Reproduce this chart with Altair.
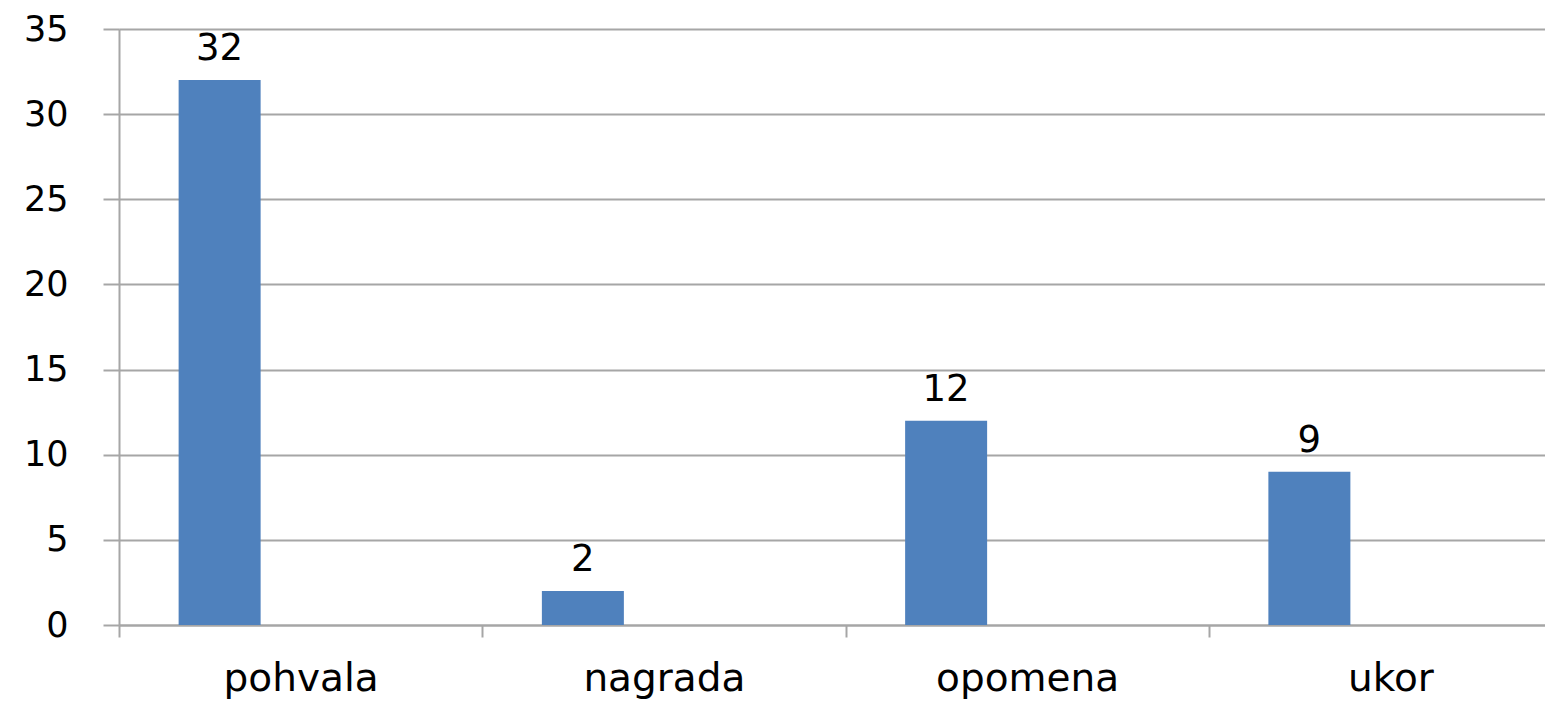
import altair as alt
import pandas as pd

categories = ["pohvala", "nagrada", "opomena", "ukor"]
values = [32, 2, 12, 9]

df = pd.DataFrame({"kategorija": categories, "broj": values})

FONT = "DejaVu Sans"
GRID = "#a6a6a6"

x = alt.X(
    "kategorija:N",
    sort=categories,
    scale=alt.Scale(range=[0, 1453], paddingInner=0, paddingOuter=0),
    axis=alt.Axis(
        title=None,
        labelAngle=0,
        tickBand="extent",
        tickSize=12,
        tickColor=GRID,
        tickWidth=2,
        domainColor=GRID,
        domainWidth=2,
        labelFontSize=39,
        labelFont=FONT,
        labelColor="#000000",
        labelBaseline="alphabetic",
        labelPadding=53,
        labelLimit=0,
        grid=False,
    ),
)
y = alt.Y(
    "broj:Q",
    scale=alt.Scale(domain=[0, 35], nice=False),
    axis=alt.Axis(
        title=None,
        values=[0, 5, 10, 15, 20, 25, 30, 35],
        tickSize=16,
        tickColor=GRID,
        tickWidth=2,
        domainColor=GRID,
        domainWidth=2,
        gridColor=GRID,
        gridWidth=2,
        labelFontSize=35,
        labelFont=FONT,
        labelColor="#000000",
        labelPadding=35,
    ),
)

bars = alt.Chart(df).mark_bar(color="#4f81bd", width=82, xOffset=-81).encode(x=x, y=y)
labels = alt.Chart(df).mark_text(
    xOffset=-81, dy=-20, baseline="alphabetic", fontSize=37, font=FONT, color="#000000"
).encode(x=x, y=y, text="broj:Q")

chart = (
    alt.layer(bars, labels)
    .properties(
        width=1426,
        height=596,
        autosize=alt.AutoSizeParams(type="none"),
        padding={"left": 111, "top": 21, "right": 0, "bottom": 77},
    )
    .configure_view(stroke=None)
    .configure(background="#ffffff")
)

chart.save("out.html", embed_options={"renderer": "svg", "actions": False})
